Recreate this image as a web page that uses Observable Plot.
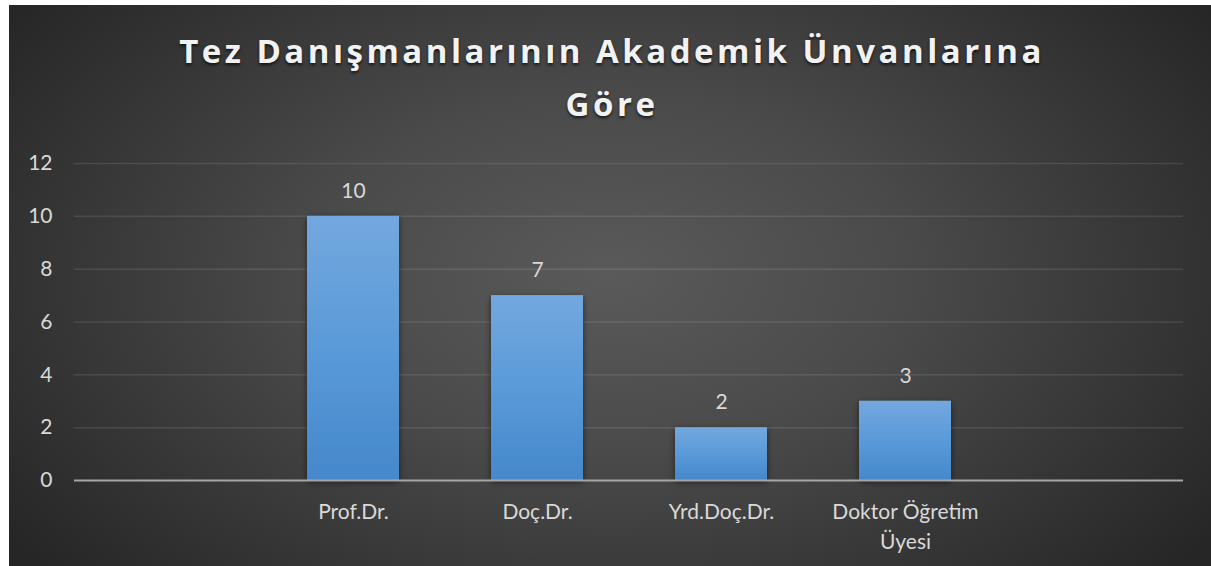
<!DOCTYPE html>
<html>
<head>
<meta charset="utf-8">
<script src="https://cdn.jsdelivr.net/npm/d3@7"></script>
<script src="https://cdn.jsdelivr.net/npm/@observablehq/plot@0.6"></script>
<style>
  html, body { margin: 0; padding: 0; background: #ffffff; width: 1211px; height: 566px; overflow: hidden; }
  #chart {
    position: absolute; left: 9px; top: 5px; width: 1202px; height: 561px;
    background: radial-gradient(ellipse 62% 80% at 50% 48%, #5a5a5a 0%, #4a4a4a 40%, #353535 75%, #262626 100%);
    font-family: Lato, "Open Sans", sans-serif;
  }
  #title {
    position: absolute; left: 2px; top: 19px; width: 100%; text-align: center;
    font-family: "Open Sans", Lato, sans-serif;
    color: #f2f2f2; font-weight: bold; font-size: 33px; letter-spacing: 3.5px; line-height: 53px;
    text-shadow: 0 2px 3px rgba(0,0,0,0.65);
  }
  #plot { position: absolute; left: 0; top: 130px; }
</style>
</head>
<body>
<div id="chart">
  <div id="title"></div>
  <div id="plot"></div>
</div>
<script>
const titleLines = ["Tez Danışmanlarının Akademik Ünvanlarına", "Göre"];
const categories = ["Prof.Dr.", "Doç.Dr.", "Yrd.Doç.Dr.", "Doktor Öğretim Üyesi"];
const tickLabels = ["Prof.Dr.", "Doç.Dr.", "Yrd.Doç.Dr.", "Doktor Öğretim\nÜyesi"];
const values = [10, 7, 2, 3];
const yTicks = [0, 2, 4, 6, 8, 10, 12];
// the source chart's category range has one empty slot on each side
const emptySlots = ["(boş-1)", "(boş-2)"];

document.getElementById("title").innerHTML = titleLines.join("<br>");

const data = categories.map((c, i) => ({category: c, value: values[i]}));
const domain = [emptySlots[0], ...categories, emptySlots[1]];
const labelOf = c => { const i = categories.indexOf(c); return i < 0 ? "" : tickLabels[i]; };

const FS = 21;
const plot = Plot.plot({
  width: 1202,
  height: 431,
  marginTop: 28,
  marginBottom: 86,
  marginLeft: 65,
  marginRight: 28,
  style: {background: "transparent", color: "#d9d9d9", fontFamily: "Lato, 'Open Sans', sans-serif", fontSize: FS + "px"},
  x: {type: "band", domain, paddingInner: 0.5, paddingOuter: 0.25, align: 0.5},
  y: {domain: [0, 12]},
  marks: [
    Plot.ruleY(yTicks.filter(d => d > 0), {stroke: "#ffffff", strokeOpacity: 0.1, strokeWidth: 1.5}),
    Plot.barY(data, {x: "category", y: "value", fill: "url(#barGrad)"}),
    Plot.ruleY([0], {stroke: "#a6a6a6", strokeWidth: 2}),
    Plot.text(data, {x: "category", y: "value", text: d => String(d.value), dy: -25, lineAnchor: "middle", fill: "#d9d9d9", fontSize: FS}),
    Plot.axisY({ticks: yTicks, tickSize: 0, tickPadding: 22, label: null, fontSize: FS, fill: "#d9d9d9"}),
    Plot.axisX({tickSize: 0, tickPadding: 17, label: null, tickFormat: labelOf, lineHeight: 1.43, fontSize: FS, fill: "#d9d9d9"})
  ]
});

d3.select(plot).insert("defs", ":first-child").html(`
  <linearGradient id="barGrad" x1="0" y1="0" x2="0" y2="1">
    <stop offset="0" stop-color="#73a8de"/>
    <stop offset="0.5" stop-color="#5a9ad9"/>
    <stop offset="1" stop-color="#4588cb"/>
  </linearGradient>
  <filter id="barShadow" x="-20%" y="-10%" width="140%" height="125%">
    <feDropShadow dx="0" dy="2" stdDeviation="3" flood-color="#000" flood-opacity="0.55"/>
  </filter>`);
d3.select(plot).selectAll("g[aria-label='bar'] rect").attr("filter", "url(#barShadow)");

document.getElementById("plot").appendChild(plot);
</script>
</body>
</html>
